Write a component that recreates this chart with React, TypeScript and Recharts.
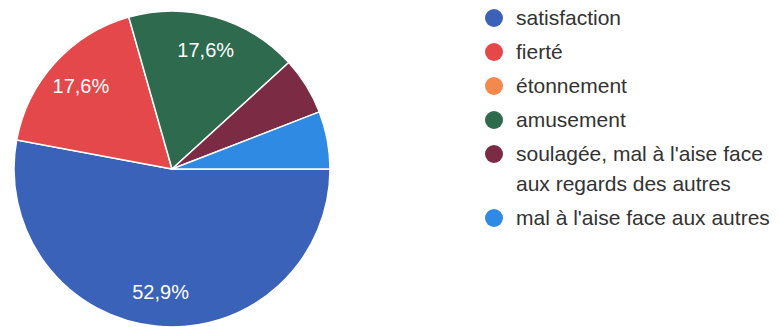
import { Cell, Legend, Pie, PieChart } from "recharts";

const categories = [
  "satisfaction",
  "fierté",
  "étonnement",
  "amusement",
  "soulagée, mal à l'aise face aux regards des autres",
  "mal à l'aise face aux autres",
];
const legendLines = [
  ["satisfaction"],
  ["fierté"],
  ["étonnement"],
  ["amusement"],
  ["soulagée, mal à l'aise face", "aux regards des autres"],
  ["mal à l'aise face aux autres"],
];
const counts = [9, 3, 0, 3, 1, 1];
const colors = ["#3a62b8", "#e5484b", "#f5884c", "#2e6a4e", "#7b2c44", "#2e8ae3"];

const data = categories.map((name, i) => ({ name, value: counts[i] }));

const FONT = "'Liberation Sans', Arial, sans-serif";
const RAD = Math.PI / 180;

const renderLabel = (props: any) => {
  const { cx, cy, midAngle, outerRadius, percent } = props;
  if (percent < 0.1) return null;
  const r = outerRadius * 0.78;
  const x = cx + r * Math.cos(-midAngle * RAD);
  const y = cy + r * Math.sin(-midAngle * RAD);
  return (
    <text
      x={x}
      y={y}
      fill="#fff"
      fontSize={20}
      fontFamily={FONT}
      textAnchor="middle"
      dominantBaseline="central"
    >
      {(percent * 100).toFixed(1).replace(".", ",")}%
    </text>
  );
};

const renderLegend = () => (
  <div style={{ fontFamily: FONT, fontSize: 21, color: "#333" }}>
    {legendLines.map((lines, i) => (
      <div key={i} style={{ display: "flex", marginBottom: 4 }}>
        <span
          style={{
            width: 18,
            height: 18,
            borderRadius: "50%",
            background: colors[i],
            marginTop: 6,
            marginRight: 13,
            flexShrink: 0,
          }}
        />
        <div style={{ lineHeight: "30px" }}>
          {lines.map((l, j) => (
            <div key={j} style={{ whiteSpace: "nowrap" }}>
              {l}
            </div>
          ))}
        </div>
      </div>
    ))}
  </div>
);

export default function App() {
  return (
    <div style={{ position: "absolute", left: 0, top: 0, background: "#fff" }}>
      <PieChart width={779} height={327} margin={{ top: 0, right: 0, bottom: 0, left: 0 }}>
        <Pie
          data={data}
          dataKey="value"
          nameKey="name"
          cx={172}
          cy={169}
          outerRadius={158}
          startAngle={0}
          endAngle={-360}
          stroke="#fff"
          strokeWidth={1.5}
          label={renderLabel}
          labelLine={false}
          isAnimationActive={false}
        >
          {data.map((d, i) => (
            <Cell key={d.name} fill={colors[i]} />
          ))}
        </Pie>
        <Legend
          layout="vertical"
          content={renderLegend}
          wrapperStyle={{ left: 485, top: 3, width: 294 }}
        />
      </PieChart>
    </div>
  );
}
